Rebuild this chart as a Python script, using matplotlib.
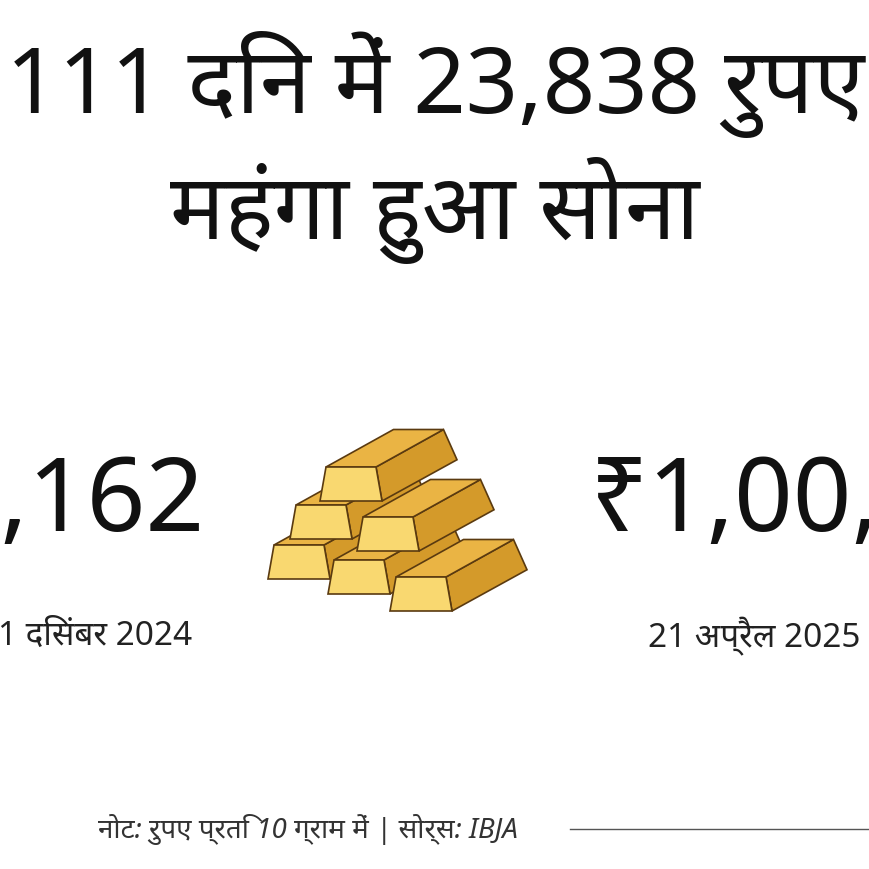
import matplotlib
matplotlib.use('Agg')
import matplotlib.pyplot as plt
from matplotlib.patches import Polygon

plt.rcParams['font.family'] = ['Noto Sans', 'DejaVu Sans']

title_lines = ['111 दिन में 23,838 रुपए', 'महंगा हुआ सोना']
prices = ['₹76,162', '₹1,00,000']
dates = ['31 दिसंबर 2024', '21 अप्रैल 2025']
note = 'नोट: रुपए प्रति 10 ग्राम में | सोर्स: IBJA'

# gold bar pile: (front-left x, front-bottom y) in pixels
bars = [(268, 580), (328, 595), (390, 612),
        (290, 540), (357, 552),
        (320, 502)]

fig = plt.figure(figsize=(8.7, 8.7), dpi=100)
ax = fig.add_axes([0, 0, 1, 1])
ax.set_xlim(0, 870)
ax.set_ylim(870, 0)
ax.axis('off')

ax.text(435, 85, title_lines[0], ha='center', va='center', fontsize=66, fontweight='heavy', color='#111')
ax.text(435, 210, title_lines[1], ha='center', va='center', fontsize=66, fontweight='heavy', color='#111')

ax.text(205, 505, prices[0], ha='right', va='center', fontsize=74, color='#111')
ax.text(590, 505, prices[1], ha='left', va='center', fontsize=74, color='#111')
ax.text(192, 636, dates[0], ha='right', va='center', fontsize=24, color='#222')
ax.text(648, 636, dates[1], ha='left', va='center', fontsize=24, color='#222')

ax.text(518, 830, note, ha='right', va='center', fontsize=20, style='italic', color='#333')
ax.plot([570, 870], [830, 830], color='#555', lw=1)

for x, y in bars:
    w, h, d = 62, 34, 75
    front = [(x, y), (x + w, y), (x + w - 6, y - h), (x + 6, y - h)]
    top = [(x + 6, y - h), (x + w - 6, y - h), (x + w - 6 + d * 0.9, y - h - d * 0.5), (x + 6 + d * 0.9, y - h - d * 0.5)]
    side = [(x + w, y), (x + w + d, y - d * 0.55), (x + w - 6 + d * 0.9, y - h - d * 0.5), (x + w - 6, y - h)]
    ax.add_patch(Polygon(side, closed=True, fc='#d49a2a', ec='#5a3a10', lw=1.2))
    ax.add_patch(Polygon(top, closed=True, fc='#eab444', ec='#5a3a10', lw=1.2))
    ax.add_patch(Polygon(front, closed=True, fc='#f9d870', ec='#5a3a10', lw=1.2))

fig.savefig('out.png', dpi=100, facecolor='white')
